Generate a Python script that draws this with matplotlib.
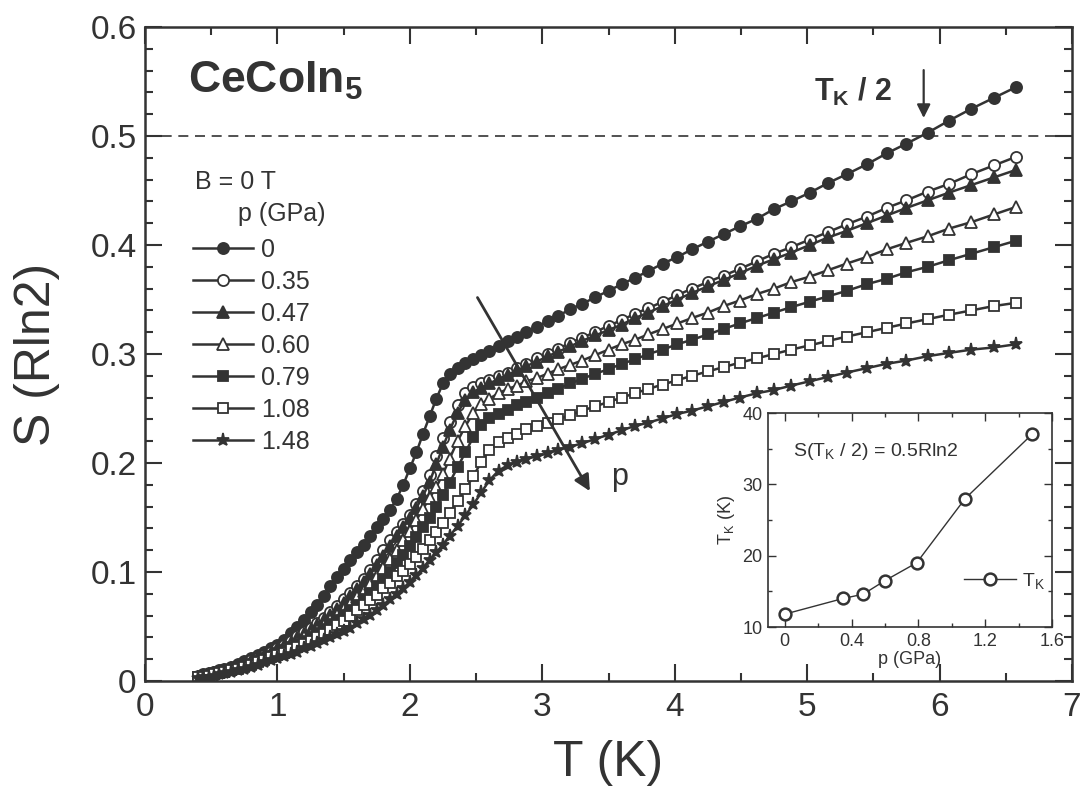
import numpy as np
import matplotlib
matplotlib.use('Agg')
import matplotlib.pyplot as plt
from matplotlib.ticker import MultipleLocator

plt.rcParams['font.family'] = ['Liberation Sans', 'DejaVu Sans']
plt.rcParams['mathtext.fontset'] = 'custom'
plt.rcParams['mathtext.rm'] = 'Liberation Sans'
plt.rcParams['mathtext.it'] = 'Liberation Sans'
plt.rcParams['mathtext.bf'] = 'Liberation Sans:bold'

INK = '#333333'

# temperature grid (K), shared by all pressures
T = [0.40, 0.44, 0.48, 0.52, 0.56, 0.60, 0.65, 0.70, 0.75, 0.80, 0.85, 0.90, 0.95,
     1.00, 1.05, 1.10, 1.15, 1.20, 1.25, 1.30, 1.35, 1.40, 1.45, 1.50, 1.55, 1.60,
     1.65, 1.70, 1.75, 1.80, 1.85, 1.90, 1.95, 2.00, 2.05, 2.10, 2.15, 2.20, 2.25,
     2.30, 2.36, 2.42, 2.48, 2.54, 2.60, 2.67, 2.74, 2.81, 2.88, 2.96, 3.04, 3.12,
     3.21, 3.30, 3.40, 3.50, 3.60, 3.70, 3.80, 3.91, 4.02, 4.13, 4.25, 4.37, 4.49,
     4.62, 4.75, 4.88, 5.02, 5.16, 5.30, 5.45, 5.60, 5.75, 5.91, 6.07, 6.24, 6.41, 6.58]

# entropy S (R ln2) for each pressure
S_000 = [0.005, 0.006, 0.007, 0.008, 0.010, 0.011, 0.013, 0.016, 0.018, 0.021, 0.024, 0.027, 0.030,
         0.033, 0.038, 0.044, 0.050, 0.056, 0.063, 0.070, 0.078, 0.087, 0.095, 0.103, 0.111, 0.118,
         0.125, 0.133, 0.141, 0.149, 0.157, 0.167, 0.180, 0.195, 0.210, 0.227, 0.243, 0.259, 0.273,
         0.282, 0.287, 0.292, 0.295, 0.299, 0.303, 0.307, 0.312, 0.316, 0.320, 0.325, 0.330, 0.335,
         0.341, 0.346, 0.352, 0.358, 0.364, 0.370, 0.376, 0.383, 0.389, 0.396, 0.403, 0.410, 0.417,
         0.424, 0.433, 0.440, 0.448, 0.457, 0.465, 0.474, 0.484, 0.493, 0.503, 0.514, 0.525, 0.535, 0.545]
S_035 = [0.004, 0.005, 0.006, 0.008, 0.009, 0.010, 0.012, 0.014, 0.016, 0.019, 0.021, 0.024, 0.027,
         0.030, 0.033, 0.037, 0.041, 0.045, 0.049, 0.053, 0.058, 0.063, 0.069, 0.075, 0.081, 0.087,
         0.094, 0.102, 0.111, 0.120, 0.129, 0.137, 0.144, 0.152, 0.162, 0.174, 0.189, 0.206, 0.223,
         0.238, 0.253, 0.264, 0.270, 0.273, 0.276, 0.280, 0.283, 0.287, 0.291, 0.296, 0.300, 0.305,
         0.310, 0.315, 0.320, 0.326, 0.331, 0.337, 0.342, 0.348, 0.354, 0.360, 0.366, 0.372, 0.378,
         0.385, 0.392, 0.398, 0.405, 0.412, 0.419, 0.426, 0.434, 0.441, 0.449, 0.456, 0.465, 0.473, 0.481]
S_047 = [0.004, 0.005, 0.006, 0.007, 0.008, 0.010, 0.012, 0.014, 0.016, 0.018, 0.021, 0.023, 0.026,
         0.029, 0.032, 0.035, 0.039, 0.043, 0.047, 0.051, 0.056, 0.061, 0.066, 0.072, 0.078, 0.084,
         0.091, 0.098, 0.106, 0.115, 0.124, 0.133, 0.141, 0.150, 0.159, 0.170, 0.183, 0.199, 0.215,
         0.230, 0.246, 0.258, 0.265, 0.269, 0.273, 0.277, 0.281, 0.285, 0.289, 0.293, 0.298, 0.302,
         0.307, 0.312, 0.317, 0.322, 0.327, 0.333, 0.338, 0.344, 0.350, 0.356, 0.362, 0.368, 0.374,
         0.381, 0.387, 0.393, 0.400, 0.407, 0.413, 0.420, 0.427, 0.434, 0.441, 0.448, 0.455, 0.462, 0.469]
S_060 = [0.004, 0.005, 0.006, 0.007, 0.008, 0.009, 0.011, 0.013, 0.015, 0.017, 0.019, 0.022, 0.024,
         0.027, 0.030, 0.033, 0.036, 0.040, 0.043, 0.047, 0.051, 0.056, 0.061, 0.066, 0.071, 0.077,
         0.083, 0.089, 0.096, 0.104, 0.112, 0.120, 0.129, 0.138, 0.148, 0.158, 0.168, 0.178, 0.190,
         0.204, 0.220, 0.234, 0.246, 0.254, 0.259, 0.264, 0.268, 0.271, 0.275, 0.278, 0.282, 0.286,
         0.290, 0.294, 0.299, 0.304, 0.309, 0.313, 0.318, 0.323, 0.328, 0.333, 0.338, 0.344, 0.349,
         0.355, 0.360, 0.366, 0.371, 0.377, 0.383, 0.389, 0.396, 0.402, 0.408, 0.415, 0.421, 0.428, 0.435]
S_079 = [0.004, 0.005, 0.005, 0.006, 0.007, 0.009, 0.010, 0.012, 0.014, 0.016, 0.018, 0.021, 0.023,
         0.026, 0.028, 0.031, 0.034, 0.037, 0.040, 0.044, 0.048, 0.052, 0.056, 0.061, 0.065, 0.070,
         0.075, 0.081, 0.087, 0.093, 0.100, 0.108, 0.116, 0.124, 0.132, 0.141, 0.150, 0.160, 0.171,
         0.182, 0.196, 0.210, 0.224, 0.235, 0.241, 0.245, 0.249, 0.253, 0.256, 0.260, 0.264, 0.268,
         0.273, 0.277, 0.282, 0.286, 0.291, 0.295, 0.300, 0.304, 0.309, 0.313, 0.318, 0.323, 0.328,
         0.333, 0.338, 0.343, 0.348, 0.353, 0.358, 0.364, 0.369, 0.375, 0.380, 0.386, 0.392, 0.398, 0.404]
S_108 = [0.004, 0.004, 0.005, 0.006, 0.007, 0.008, 0.010, 0.011, 0.013, 0.015, 0.017, 0.019, 0.022,
         0.024, 0.026, 0.029, 0.031, 0.034, 0.037, 0.040, 0.043, 0.047, 0.051, 0.055, 0.060, 0.065,
         0.070, 0.074, 0.079, 0.085, 0.090, 0.096, 0.101, 0.107, 0.114, 0.121, 0.129, 0.137, 0.145,
         0.154, 0.165, 0.176, 0.188, 0.201, 0.212, 0.219, 0.223, 0.227, 0.231, 0.234, 0.237, 0.240,
         0.244, 0.248, 0.252, 0.256, 0.260, 0.264, 0.268, 0.272, 0.276, 0.280, 0.284, 0.288, 0.292,
         0.296, 0.300, 0.304, 0.308, 0.312, 0.316, 0.320, 0.324, 0.328, 0.332, 0.336, 0.340, 0.344, 0.347]
S_148 = [0.003, 0.004, 0.004, 0.005, 0.006, 0.007, 0.008, 0.010, 0.011, 0.013, 0.015, 0.017, 0.019,
         0.021, 0.023, 0.025, 0.027, 0.030, 0.032, 0.035, 0.038, 0.040, 0.043, 0.046, 0.049, 0.053,
         0.057, 0.061, 0.065, 0.070, 0.075, 0.080, 0.085, 0.091, 0.097, 0.104, 0.111, 0.118, 0.125,
         0.133, 0.142, 0.152, 0.162, 0.173, 0.184, 0.193, 0.198, 0.201, 0.204, 0.206, 0.209, 0.212,
         0.215, 0.218, 0.222, 0.226, 0.230, 0.234, 0.237, 0.241, 0.245, 0.248, 0.252, 0.256, 0.260,
         0.264, 0.267, 0.271, 0.275, 0.279, 0.283, 0.287, 0.291, 0.294, 0.298, 0.301, 0.304, 0.306, 0.309]

pressures = ['0', '0.35', '0.47', '0.60', '0.79', '1.08', '1.48']
curves = [S_000, S_035, S_047, S_060, S_079, S_108, S_148]
markers = ['o', 'o', '^', '^', 's', 's', '*']
filled = [True, False, True, False, True, False, True]
msizes = [8, 8, 8.5, 8.5, 7, 7, 9.5]

# inset: Kondo temperature vs pressure
p_GPa = [0, 0.35, 0.47, 0.60, 0.79, 1.08, 1.48]
TK = [11.8, 14.0, 14.6, 16.5, 19.0, 28.0, 37.0]

fig = plt.figure(figsize=(10.85, 7.93), dpi=100)
ax = fig.add_axes([145/1085, 112/793, 927/1085, 654/793])

handles = []
for i in range(len(curves)):
    mfc = INK if filled[i] else 'white'
    h, = ax.plot(T, curves[i], marker=markers[i], ms=msizes[i], mfc=mfc, mec=INK, mew=1.3,
                 color=INK, lw=1.8, label=pressures[i])
    handles.append(h)

ax.axhline(0.5, color=INK, lw=1.2, ls=(0, (6, 4)), zorder=0)

ax.set_xlim(0, 7)
ax.set_ylim(0, 0.6)
ax.set_xticks([0, 1, 2, 3, 4, 5, 6, 7])
ax.set_xticklabels(['0', '1', '2', '3', '4', '5', '6', '7'])
ax.set_yticks([0, 0.1, 0.2, 0.3, 0.4, 0.5, 0.6])
ax.set_yticklabels(['0', '0.1', '0.2', '0.3', '0.4', '0.5', '0.6'])
ax.xaxis.set_minor_locator(MultipleLocator(0.5))
ax.yaxis.set_minor_locator(MultipleLocator(0.02))
ax.tick_params(which='both', direction='in', top=True, right=True, color=INK,
               labelcolor=INK, labelsize=24, width=1.5)
ax.tick_params(which='major', length=12)
ax.tick_params(which='minor', length=6)
ax.tick_params(axis='x', pad=8)
ax.tick_params(axis='y', pad=6)
for sp in ax.spines.values():
    sp.set_linewidth(1.8)
    sp.set_color(INK)

ax.set_xlabel('T (K)', fontsize=36, color=INK, labelpad=12)
ax.set_ylabel('S (Rln2)', fontsize=36, color=INK, labelpad=22)

ax.text(0.046, 0.9, r'$\mathbf{CeCoIn_5}$', transform=ax.transAxes, fontsize=32, color=INK)
ax.text(5.05, 0.532, r'$\mathbf{T_K}$ / 2', fontsize=22, color=INK, fontweight='bold')
ax.annotate('', xy=(5.88, 0.514), xytext=(5.88, 0.563),
            arrowprops=dict(arrowstyle='-|>', color=INK, lw=1.6, mutation_scale=20))
ax.annotate('', xy=(3.37, 0.172), xytext=(2.5, 0.354),
            arrowprops=dict(arrowstyle='-|>', color=INK, lw=2.0, mutation_scale=24))
ax.text(3.52, 0.187, 'p', fontsize=22, color=INK, va='center')

ax.text(0.054, 0.763, 'B = 0 T', transform=ax.transAxes, fontsize=18, color=INK, va='center')
ax.text(0.100, 0.714, 'p (GPa)', transform=ax.transAxes, fontsize=18, color=INK, va='center')
leg = ax.legend(handles=handles, loc='upper left', bbox_to_anchor=(0.052, 0.678),
                frameon=False, fontsize=18, handlelength=2.4, handletextpad=0.3,
                labelspacing=0.32, borderpad=0, borderaxespad=0)
for t in leg.get_texts():
    t.set_color(INK)

# inset
ins = fig.add_axes([768/1085, 166/793, 284/1085, 214/793])
ins.plot(p_GPa, TK, marker='o', ms=8.5, mfc='white', mec=INK, mew=1.8, color=INK, lw=1.0,
         label=r'T$_\mathrm{K}$')
ins.set_xlim(-0.1, 1.6)
ins.set_ylim(10, 40)
ins.set_xticks([0, 0.4, 0.8, 1.2, 1.6])
ins.set_xticklabels(['0', '0.4', '0.8', '1.2', '1.6'])
ins.set_yticks([10, 20, 30, 40])
ins.xaxis.set_minor_locator(MultipleLocator(0.2))
ins.yaxis.set_minor_locator(MultipleLocator(5))
ins.tick_params(which='both', direction='in', top=True, right=True, color=INK,
                labelcolor=INK, labelsize=13, width=1.0, pad=4)
ins.tick_params(which='major', length=6)
ins.tick_params(which='minor', length=3)
for sp in ins.spines.values():
    sp.set_linewidth(1.2)
    sp.set_color(INK)
ins.set_xlabel('p (GPa)', fontsize=13, color=INK, labelpad=1)
ins.set_ylabel(r'T$_\mathrm{K}$ (K)', fontsize=13, color=INK, labelpad=4)
ins.text(0.05, 34.0, r'S(T$_\mathrm{K}$ / 2) = 0.5Rln2', fontsize=14, color=INK)
ileg = ins.legend(loc='center left', bbox_to_anchor=(0.69, 0.215), frameon=False,
                  fontsize=14, handlelength=2.7, handletextpad=0.3, borderpad=0, borderaxespad=0)
for t in ileg.get_texts():
    t.set_color(INK)

plt.savefig('out.png', dpi=100)
